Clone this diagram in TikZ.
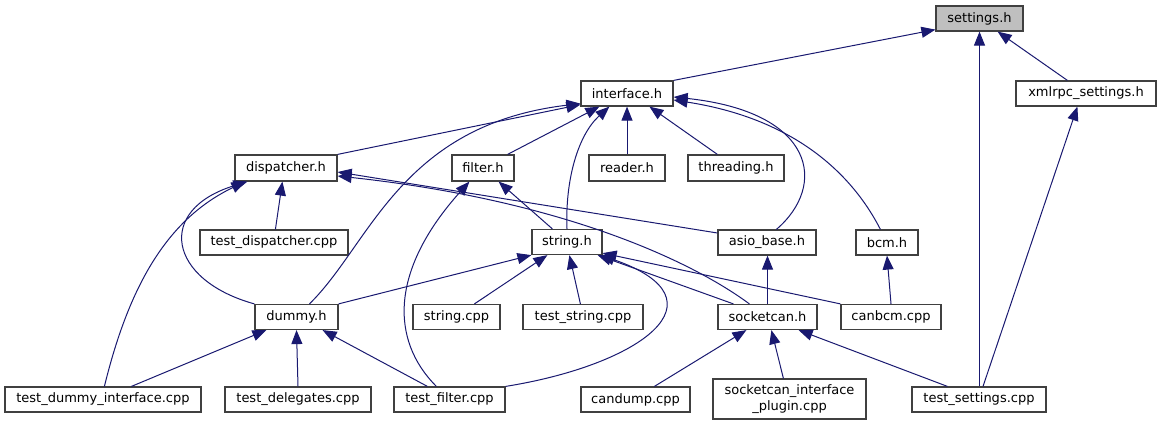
\documentclass[tikz,border=0pt]{standalone}
\usepackage{fontspec}
\setmainfont{DejaVu Sans}
\usetikzlibrary{calc,arrows.meta}
\definecolor{edgec}{RGB}{25,25,112}
\definecolor{rootfill}{RGB}{191,191,191}
\begin{document}
\begin{tikzpicture}[x=1pt,y=-1pt,
  box/.style={draw=black!75,line width=1.2pt,fill=white,inner sep=0pt,font=\fontsize{13}{15.5}\selectfont},
  dep/.style={draw=edgec,line width=1pt,-{Triangle[length=14pt,width=11pt]}}]
\useasboundingbox (0,0) rectangle (1161,425);
% nodes
\node[box,fill=rootfill,minimum width=87pt,minimum height=25pt] (settings) at (979.5,18.5) {settings.h};
\node[box,minimum width=92pt,minimum height=25pt] (interface) at (627,93.5) {interface.h};
\node[box,minimum width=140pt,minimum height=25pt] (xmlrpc) at (1086,93.5) {xmlrpc\_settings.h};
\node[box,minimum width=102pt,minimum height=26pt] (dispatcher) at (286,168) {dispatcher.h};
\node[box,minimum width=62pt,minimum height=26pt] (filter) at (483,168) {filter.h};
\node[box,minimum width=76pt,minimum height=26pt] (reader) at (627,168) {reader.h};
\node[box,minimum width=96pt,minimum height=26pt] (threading) at (736,168) {threading.h};
\node[box,minimum width=148pt,minimum height=25pt] (testdispatcher) at (274,242.5) {test\_dispatcher.cpp};
\node[box,minimum width=70pt,minimum height=25pt] (string) at (567,242) {string.h};
\node[box,minimum width=98pt,minimum height=25pt] (asio) at (767,242.5) {asio\_base.h};
\node[box,minimum width=62pt,minimum height=25pt] (bcm) at (887,242.5) {bcm.h};
\node[box,minimum width=83pt,minimum height=25pt] (dummy) at (296.5,317) {dummy.h};
\node[box,minimum width=87pt,minimum height=25pt] (stringcpp) at (456.5,317) {string.cpp};
\node[box,minimum width=120pt,minimum height=25pt] (teststring) at (583,317) {test\_string.cpp};
\node[box,minimum width=99pt,minimum height=25pt] (socketcan) at (767.5,317) {socketcan.h};
\node[box,minimum width=100pt,minimum height=25pt] (canbcm) at (891,317) {canbcm.cpp};
\node[box,minimum width=196pt,minimum height=25pt] (tdi) at (103,399.5) {test\_dummy\_interface.cpp};
\node[box,minimum width=146pt,minimum height=25pt] (tdel) at (298,399.5) {test\_delegates.cpp};
\node[box,minimum width=111pt,minimum height=25pt] (tfilter) at (449.5,399.5) {test\_filter.cpp};
\node[box,minimum width=109pt,minimum height=25pt] (candump) at (635.5,399.5) {candump.cpp};
\node[box,minimum width=153pt,minimum height=40pt,align=center] (plugin) at (789.5,399) {socketcan\_interface\\\_plugin.cpp};
\node[box,minimum width=134pt,minimum height=25pt] (tsettings) at (979,399.5) {test\_settings.cpp};
% edges
\draw[dep] (interface.north east) -- ($(settings.south west)+(0,-2)$);
\draw[dep] (tsettings.north -| settings.south) -- (settings.south);
\draw[dep] ($(xmlrpc.north west)+(52,0)$) -- ($(settings.south east)+(-26,0)$);
\draw[dep] ($(tsettings.north)+(4,0)$) -- ($(xmlrpc.south west)+(62,0)$);
\draw[dep] (dispatcher.north east) -- ($(interface.south west)+(0,-2)$);
\draw[dep] ($(dummy.north west)+(55,0)$) .. controls (370,245) and (400,125) .. ($(interface.south west)+(0,-3)$);
\draw[dep] ($(filter.north east)+(-7,0)$) -- ($(interface.south west)+(19,0)$);
\draw[dep] (string.north) .. controls (565,180) and (578,135) .. ($(interface.south west)+(29,0)$);
\draw[dep] (reader.north) -- (interface.south);
\draw[dep] ($(threading.north west)+(30,0)$) -- ($(interface.south west)+(69,0)$);
\draw[dep] ($(asio.north west)+(59,0)$) .. controls (828,185) and (815,112) .. ($(interface.east)+(0,3.5)$);
\draw[dep] ($(bcm.north west)+(25,0)$) .. controls (850,170) and (790,118) .. ($(interface.east)+(0,6.5)$);
\draw[dep] ($(testdispatcher.north west)+(76,0)$) -- ($(dispatcher.south west)+(48,0)$);
\draw[dep] (dummy.north west) .. controls (168,280) and (155,210) .. ($(dispatcher.south west)+(13,0)$);
\draw[dep] ($(tdi.north west)+(100,0)$) .. controls (128,290) and (165,220) .. ($(dispatcher.south west)+(11,0)$);
\draw[dep] ($(asio.west)+(0,-9.5)$) -- ($(dispatcher.east)+(0,4)$);
\draw[dep] ($(socketcan.north west)+(32,0)$) .. controls (690,260) and (560,200) .. ($(dispatcher.east)+(0,8)$);
\draw[dep] ($(string.north west)+(21,0)$) -- ($(filter.south east)+(-16,0)$);
\draw[dep] ($(tfilter.north west)+(43,0)$) .. controls (390,340) and (390,270) .. ($(filter.south west)+(18,0)$);
\draw[dep] (dummy.north east) -- (string.south west);
\draw[dep] ($(stringcpp.north west)+(62,0)$) -- ($(string.south west)+(16,0)$);
\draw[dep] ($(teststring.north west)+(58,0)$) -- ($(string.south west)+(38,0)$);
\draw[dep] ($(socketcan.north west)+(16,0)$) -- ($(string.south east)+(-5,0)$);
\draw[dep] (canbcm.north west) -- ($(string.south east)+(0,-2)$);
\draw[dep] (tfilter.north east) .. controls (640,365) and (730,300) .. ($(string.south east)+(-2,0)$);
\draw[dep] (socketcan.north) -- (socketcan.north |- asio.south);
\draw[dep] (canbcm.north) -- (bcm.south);
\draw[dep] ($(tdi.north west)+(127,0)$) -- ($(dummy.south west)+(12,0)$);
\draw[dep] (tdel.north) -- (dummy.south);
\draw[dep] ($(tfilter.north west)+(34,0)$) -- ($(dummy.south east)+(-16,0)$);
\draw[dep] ($(candump.north west)+(74,0)$) -- ($(socketcan.south west)+(29,0)$);
\draw[dep] ($(plugin.north west)+(71,0)$) -- ($(socketcan.south west)+(54,0)$);
\draw[dep] ($(tsettings.north west)+(36,0)$) -- ($(socketcan.south east)+(-19,0)$);
\end{tikzpicture}
\end{document}
